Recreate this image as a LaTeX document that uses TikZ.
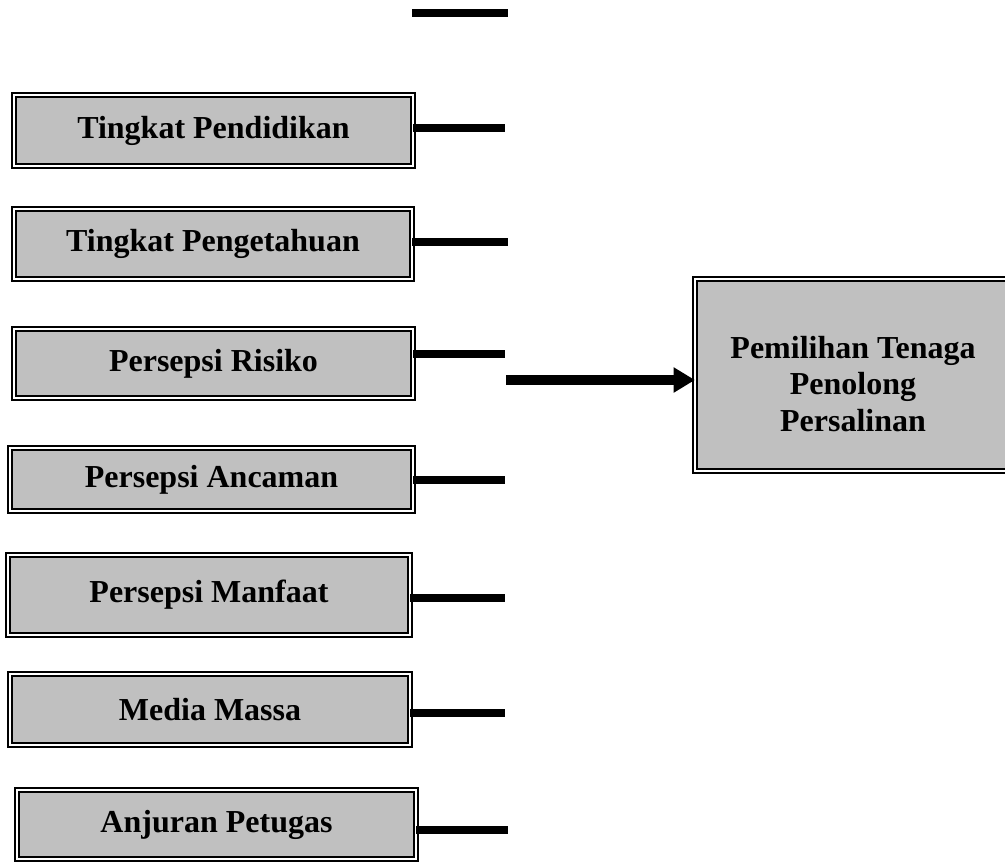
\documentclass[tikz,border=0pt]{standalone}
\usepackage{fontspec}
\setmainfont{Liberation Serif}
\usetikzlibrary{arrows.meta}
\definecolor{boxgray}{RGB}{192,192,192}
\tikzset{
  dbox/.style={draw=black, double=white, line width=1.5pt, double distance=1.4pt,
    fill=boxgray, inner sep=0pt, outer sep=0pt, align=center,
    font=\bfseries\fontsize{24}{27.6}\selectfont},
  boxtext/.style={inner sep=0pt, align=center, font=\bfseries\fontsize{24}{27.6}\selectfont},
  stub/.style={line width=6pt},
  mainarrow/.style={line width=7.5pt, -{Triangle[length=16pt,width=18pt]}}
}
% box from outer extents in px: x1 y1 x2 y2
\newcommand{\pxbox}[6]{%
  \node[dbox, minimum width={(#4-#2)*0.75pt-4.4pt}, minimum height={(#5-#3)*0.75pt-4.4pt}]
    (#1) at ({(#2+#4)/2},{(#3+#5)/2}) {#6};}
\begin{document}
\begin{tikzpicture}[x=0.75pt,y=-0.75pt]
\useasboundingbox (0,0) rectangle (1005,861);
\pxbox{b1}{11}{92}{416}{169}{Tingkat Pendidikan}
\pxbox{b2}{11}{206}{415}{282}{Tingkat Pengetahuan}
\pxbox{b3}{11}{326}{416}{401}{Persepsi Risiko}
\pxbox{b4}{7}{445}{416}{514}{Persepsi Ancaman}
\pxbox{b5}{5}{552}{413}{638}{Persepsi Manfaat}
\pxbox{b6}{7}{671}{413}{748}{Media Massa}
\pxbox{b7}{14}{787}{419}{862}{Anjuran Petugas}
\pxbox{t}{692}{276}{1012}{474}{}
\node[boxtext] (tl) at (853,384) {Pemilihan Tenaga\\Penolong\\Persalinan};
% free stubs
\coordinate (s0a) at (412,13);
\coordinate (s0b) at (508,13);
\draw[stub] (s0a) -- (s0b);
\coordinate (e1) at (505,128);
\coordinate (e2) at (508,242);
\coordinate (e3) at (505,354);
\coordinate (e4) at (505,480);
\coordinate (e5) at (505,598);
\coordinate (e6) at (505,713);
\coordinate (e7) at (508,830);
\draw[stub] (b1.east |- e1) -- (e1);
\draw[stub] (b2.east |- e2) -- (e2);
\draw[stub] (b3.east |- e3) -- (e3);
\draw[stub] (b4.east |- e4) -- (e4);
\draw[stub] (b5.east |- e5) -- (e5);
\draw[stub] (b6.east |- e6) -- (e6);
\draw[stub] (b7.east |- e7) -- (e7);
\coordinate (a0) at (506,380);
\draw[mainarrow] (a0) -- (a0 -| t.west);
\end{tikzpicture}
\end{document}
